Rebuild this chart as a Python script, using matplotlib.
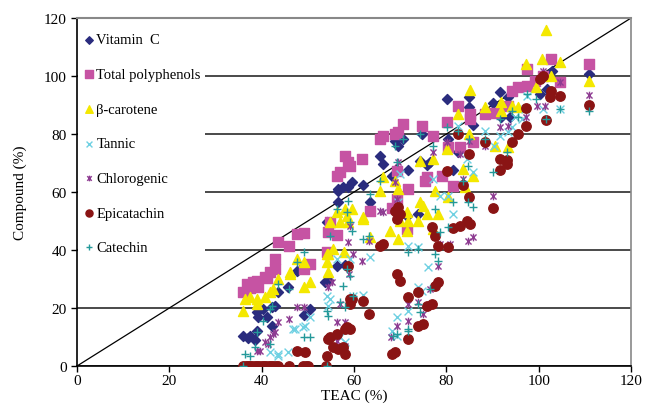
import matplotlib
matplotlib.use("Agg")
import matplotlib.pyplot as plt
from matplotlib.path import Path

# values (TEAC %, compound %)
vitc_x = [36, 37, 37.5, 38.5, 39, 39.2, 39, 40.3, 41.1, 42.2, 42.2, 42.9, 43.5, 45.7, 47.6, 49.2, 50.5,
          53.7, 54.4, 54.1, 56.3, 58, 56.5, 56.5, 56.5, 57.6, 58.7, 59.6, 61.9, 63.5, 65.6, 66.3, 68.2,
          68.9, 69.5, 70.6, 71.5, 71.7, 73.9, 74.3, 74.7, 75.8, 76.5, 80.1, 80.4, 81.4, 82.5, 84.9, 84.9,
          85.8, 90.1, 91.6, 91.8, 93.3, 93.8, 100.3, 101.8, 102.9, 111]
vitc_y = [10.3, 9.6, 10.5, 9, 12, 16.9, 18.6, 19.7, 16.9, 13.8, 20.3, 20.7, 25.5, 27.2, 32.8, 17.6, 19.7,
          29, 29.7, 49.7, 34.5, 34.8, 56.5, 60.3, 61, 61.7, 61.7, 63.4, 62.4, 56.6, 72.4, 69.7, 65.5,
          77.6, 75.9, 78.3, 51.7, 67.6, 52.4, 70.7, 80, 69.3, 70.3, 92, 78.3, 67.6, 73.8, 92.8, 89.3,
          83.1, 90.7, 94.5, 85.9, 92.8, 85.9, 93.8, 95.5, 101.7, 100.7]

poly_x = [36, 36.8, 37.5, 38.1, 39, 39.2, 40.7, 41.1, 41.8, 42.9, 42.9, 43.5, 45.9, 47.6, 49.2, 49.2, 50.5,
          54.1, 54.4, 54.8, 56.3, 56.3, 57, 58, 58.7, 59.1, 61.7, 63.5, 65.6, 66.3, 68.2, 68.9, 69.3, 69.3,
          69.5, 70.6, 71.5, 71.7, 74.7, 75.4, 75.8, 77.1, 79, 80.1, 80.4, 81.4, 82.5, 83, 85.1, 85.1, 85.8,
          88.4, 90.3, 93.3, 94.2, 95.5, 97.5, 97.5, 99.2, 100.9, 102.7, 104.6, 111]
poly_y = [25.5, 28.3, 27, 29, 29.3, 27.2, 30.7, 30.5, 32.4, 33.4, 36.9, 42.8, 41.4, 45.5, 45.9, 33.4, 35.2,
          39.3, 46.2, 49.7, 45.2, 65.5, 66.9, 72.4, 70.3, 69, 71.4, 53.4, 78.3, 79.3, 54.5, 80, 57.6, 67.2,
          80.7, 83.4, 47.2, 61, 82.8, 63.8, 65.2, 79.3, 65.5, 84.1, 75.5, 62, 89.7, 75.5, 86.9, 85.2, 77.2,
          86.9, 87.2, 89.7, 94.8, 96.2, 96.6, 102.4, 98.3, 100, 105.9, 97.9, 104.1]

beta_x = [36, 36.4, 37.5, 39, 39, 40.7, 41.8, 42.5, 43.5, 46.1, 46.1, 47.6, 49.2, 49.2, 50.5, 54.1, 54.4,
          54.4, 54.1, 55.4, 57.8, 54.8, 56.3, 57, 58, 58.5, 58.7, 59.6, 61.9, 61.9, 63.5, 65.6, 66.3, 67.8,
          68.9, 69.5, 69.5, 70, 71.5, 71.5, 71.7, 73.9, 74.3, 74.3, 74.9, 75.8, 77.1, 77.1, 77.5, 78.2,
          80.1, 80.4, 82.5, 83.6, 84, 84.9, 85.1, 85.8, 88.4, 90.5, 91.8, 91.8, 93.3, 94.2, 95.5, 97.2,
          99.4, 100.7, 101.6, 102.7, 104.6, 111]
beta_y = [19, 23.1, 23.8, 23.1, 21.4, 23.8, 25.5, 26.6, 30, 32.4, 31.7, 36.9, 35.9, 27.2, 29, 35.9, 38.6,
          32.4, 38.6, 40.3, 39.3, 49.7, 53.1, 49.7, 54.1, 51.7, 49.7, 54.1, 51.4, 50.7, 44.5, 60.3, 65.2, 46.6,
          63.8, 61, 43.8, 50, 53.1, 46.6, 50, 50, 56.6, 70.7, 55.2, 52.4, 47.2, 71.4, 60.3, 52.4,
          74.8, 58.3, 86.9, 67.9, 61.7, 80, 95.2, 65.5, 89.3, 75.9, 91, 87.9, 75.5, 89.7, 89.3, 104.1,
          96.2, 105.9, 115.9, 100, 104.8, 98.3]

tann_x = [41.8, 43.5, 43.5, 45.7, 46.8, 47.2, 49, 49.4, 50.5, 54.1, 54.4, 54.8, 56.3, 57, 58, 59.1, 59.8,
          61.9, 63.5, 68.2, 69.3, 69.3, 69.5, 70, 71.7, 71.7, 73.9, 73.9, 74.7, 76, 77.1, 78.6, 80.4, 81.4,
          82.5, 84.5, 85.8, 88.4, 90.3, 91.6, 93.3, 94.2, 94.9, 96.4, 97, 97.5, 100.9, 104.6]
tann_y = [4.8, 3.4, 4.1, 4.8, 12.8, 12.8, 13.4, 13.8, 16.9, 24.1, 20.7, 23.1, 36.9, 10, 8.3, 36.9, 24.1,
          24.5, 37.6, 12.1, 16.9, 10.3, 56.6, 66.2, 19, 41.4, 41, 27.2, 25.9, 34.1, 64.5, 58.6, 58.6, 52.4,
          82.8, 71.4, 66.9, 81, 75.9, 79.3, 80.7, 82.4, 85.9, 85.2, 88.6, 93.1, 88.6, 88.6]

chlo_x = [39, 39.6, 40.7, 41.4, 41.8, 42.5, 42.9, 43.5, 45.9, 47.6, 49.2, 54.1, 55.2, 54.4, 56.3, 56.3, 57,
          58, 58, 58.7, 58.9, 59.1, 59.8, 61.7, 63.2, 65.6, 66.3, 68, 68.9, 69.3, 69.3, 69.5, 71.7, 71.7,
          73.9, 74.9, 76.5, 77.1, 78.2, 78.6, 80.1, 80.8, 83, 83.6, 84.7, 84.9, 85.8, 88.4, 90.1, 91.6,
          93.3, 97.2, 99.6, 100.9, 101.4, 104.6, 111]
chlo_y = [5.2, 5.2, 8.3, 7.6, 10, 11, 11.7, 15.2, 16.2, 20.3, 20.3, 0, 29, 27.2, 8.6, 15.2, 21.4,
          6.9, 15.2, 42.8, 31.7, 48.3, 38.6, 36.2, 43.1, 53.4, 53.1, 10, 63.4, 13.8, 57.6, 70.3, 21.4, 15.5,
          22.1, 17.9, 26.6, 73.8, 34.5, 42.1, 77.2, 42.1, 73.1, 64.5, 43.1, 77.6, 44.5, 75.9, 58.6, 82.4,
          82.8, 85.9, 89.7, 101.7, 89.7, 97.9, 93.4]

epi_x = [36, 36.5, 37, 37.5, 38, 38.5, 39, 39.5, 40, 40.5, 41, 41.5, 42, 42.5, 43, 43.5, 46, 49, 49.5,
         50, 54, 47.6, 49.4, 54.1, 54.4, 54.8, 55.4, 56.3, 56.5, 57.6, 58, 58, 58.5, 59.1, 58.7, 59.1,
         59.1, 59.6, 61.9, 63.2, 65.6, 66.3, 68.2, 68.9, 68.9, 69.3, 69.3, 69.5, 70, 70, 71.7, 71.7, 73.9,
         73.9, 74.9, 75.8, 76.9, 76.9, 77.5, 77.5, 78.2, 78.2, 80.4, 81.4, 83, 84.5, 85.1, 84.9, 83.6,
         80.1, 82.5, 84.9, 88.4, 90.1, 91.6, 91.6, 93.1, 93.1, 94.2, 95.5, 97.2, 97.2, 100.3, 100.9,
         101.6, 102.4, 102.7, 104.6, 111]
epi_y = [0, 0, 0, 0, 0, 0, 0, 0, 0, 0, 0, 0, 0, 0, 0, 0, 0, 0, 0,
         0, 0, 5.2, 4.8, 3.4, 9.3, 10, 6.6, 11, 5.9, 6.6, 4.1, 12.8, 13.4, 12.8, 34.5, 23.1,
         21.4, 23.1, 22.4, 17.9, 41.4, 42.1, 4.1, 4.8, 53.4, 31.7, 50.7, 54.8, 29.3, 52.4, 23.8, 9.3, 25.5,
         13.8, 14.5, 20.7, 21.4, 47.9, 27.6, 44.8, 29, 41.4, 41, 47.6, 48.3, 50, 49, 58.3, 62.4,
         67.2, 80, 73.1, 77.2, 54.5, 71.4, 67.6, 71, 69.7, 77.2, 80, 82.8, 89, 99, 100,
         84.8, 92.8, 94.8, 93.1, 90]

cate_x = [36, 36.4, 37.5, 38.6, 39, 40.3, 41.8, 41.8, 42.2, 43.5, 45.9, 47.6, 49.2, 49.2, 50.5, 54.1, 54.1,
          54.4, 54.8, 56.3, 57, 57.6, 58, 58.5, 58.5, 58.7, 59.1, 59.1, 59.6, 59.8, 61.9, 63.2, 63.5, 65.6,
          68.4, 68.9, 69.3, 69.3, 70.6, 71.7, 71.7, 71.7, 73.9, 73.9, 74.3, 74.3, 76.5, 77.1, 77.5, 77.5,
          78.2, 78.6, 80.1, 80.4, 81.4, 82.5, 83.6, 84.7, 84.7, 84.9, 85.8, 88.4, 90.1, 91.6, 93.1, 94.2,
          95.5, 97.5, 99.4, 101.6, 104.6, 111]
cate_y = [0, 4.1, 3.4, 6.6, 11.7, 15.5, 19.7, 7.6, 20.7, 28.3, 26.6, 35.9, 39.3, 10, 10, 0, 19,
          17.2, 44.8, 54.1, 22.1, 27.6, 20.3, 33.4, 53.1, 56.9, 31, 49.7, 46.6, 24.1, 43.8, 44.8, 59.3, 63.8,
          10.3, 75.9, 11, 70.3, 78.3, 39.3, 12.8, 12.1, 40.3, 21.4, 18.6, 80, 26.6, 75.9, 38.6, 54.1,
          36.2, 46.2, 82.4, 47.9, 56.6, 81, 63.8, 56.6, 69, 78.3, 54.8, 78.3, 66.9, 85.2, 73.8, 87.9,
          85.9, 93.8, 92.1, 85.2, 88.6, 87.9]

# Excel style star: an x with a vertical bar through it
star = Path([(-1, -1), (1, 1), (-1, 1), (1, -1), (0, -1.25), (0, 1.25)],
            [Path.MOVETO, Path.LINETO, Path.MOVETO, Path.LINETO, Path.MOVETO, Path.LINETO])

plt.rcParams['font.family'] = ['Liberation Serif', 'DejaVu Serif']

fig = plt.figure(figsize=(6.46, 4.14), dpi=100)
ax = fig.add_axes([0.1192, 0.1135, 0.8576, 0.8405])

ax.plot([0, 120], [0, 120], color='black', lw=0.9, zorder=2)

ax.scatter(vitc_x, vitc_y, marker='D', s=26, color='#2A2C7E', label='Vitamin  C', zorder=3)
ax.scatter(poly_x, poly_y, marker='s', s=46, color='#C653A3', label='Total polyphenols', zorder=3)
ax.scatter(beta_x, beta_y, marker='^', s=52, color='#F4E800', label='\u03b2-carotene', zorder=3)
ax.scatter(tann_x, tann_y, marker='x', s=32, color='#6ED0E2', linewidths=1.0, label='Tannic', zorder=3)
ax.scatter(chlo_x, chlo_y, marker=star, s=30, color='#8E3C92', linewidths=1.0, label='Chlorogenic', zorder=3)
ax.scatter(epi_x, epi_y, marker='o', s=46, color='#8A1414', label='Epicatachin', zorder=3)
ax.scatter(cate_x, cate_y, marker='+', s=38, color='#24999A', linewidths=1.0, label='Catechin', zorder=3)

ax.set_xlim(0, 120)
ax.set_ylim(0, 120)
ax.set_xticks(range(0, 121, 20))
ax.set_yticks(range(0, 121, 20))
for yv in range(0, 120, 20):
    ax.axhline(yv, color='#4a4a4a', lw=1.4, zorder=1)

ax.spines['top'].set_color('#888888')
ax.spines['right'].set_color('#888888')
ax.spines['top'].set_linewidth(1.5)
ax.spines['right'].set_linewidth(1.2)
ax.spines['left'].set_linewidth(1.2)
ax.spines['bottom'].set_linewidth(1.2)
ax.tick_params(direction='out', length=4, width=1, labelsize=11, colors='black')
ax.tick_params(axis='x', pad=2)

ax.set_xlabel('TEAC (%)', fontsize=11, labelpad=1)
ax.set_ylabel('Compound (%)', fontsize=11, labelpad=12)

leg = ax.legend(loc='upper left', bbox_to_anchor=(0, 0.974), fontsize=10.5, frameon=True,
                fancybox=False, framealpha=1, edgecolor='none', facecolor='white',
                labelspacing=1.47, handletextpad=0.1, handlelength=0.8, borderaxespad=0.1,
                borderpad=0.32, scatterpoints=1, markerscale=0.75)
leg.set_zorder(5)

fig.savefig('out.png', dpi=100)
